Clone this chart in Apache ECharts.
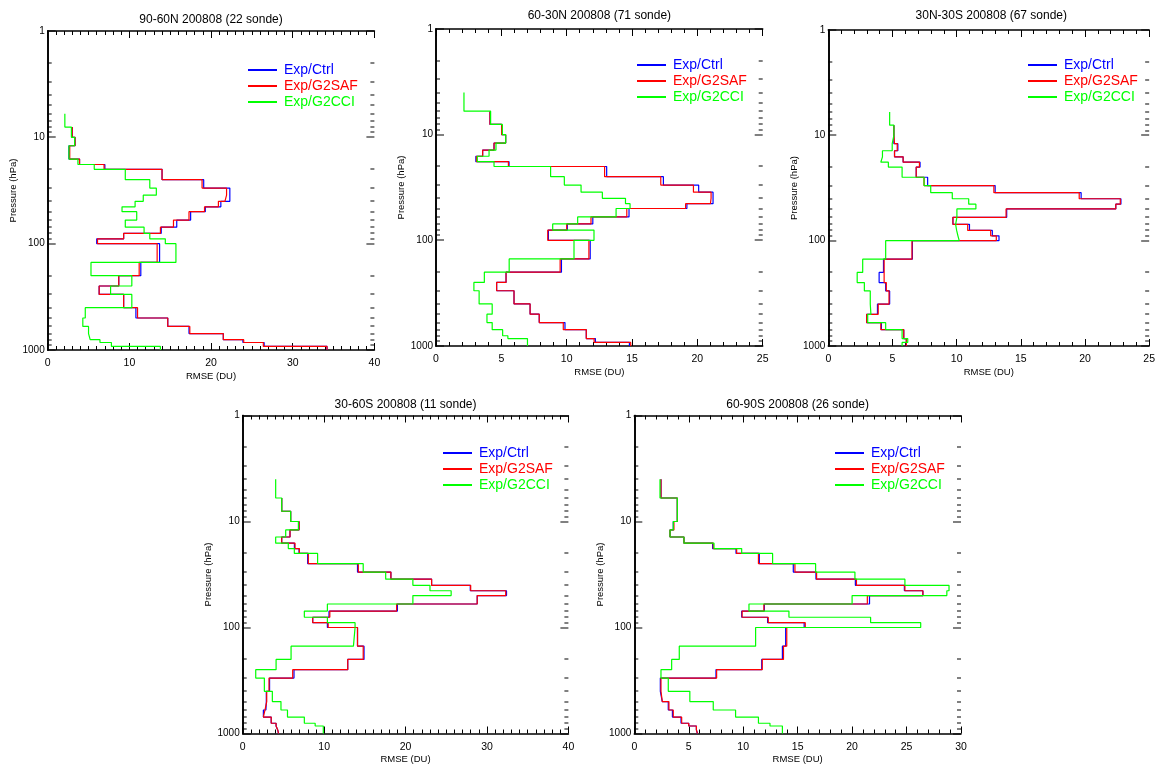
<!DOCTYPE html>
<html><head><meta charset="utf-8">
<script src="https://cdn.jsdelivr.net/npm/echarts@6/dist/echarts.min.js"></script>
<style>html,body{margin:0;padding:0;background:#fff}#c{width:1158px;height:767px}</style>
</head><body><div id="c"></div>
<script>
// Pressure layer boundaries (hPa)
const LEVELS = [4, 6, 8, 10, 12, 14, 16, 18, 20, 25, 30, 35, 40, 45, 50, 60, 70, 80, 90, 100, 150, 200, 250, 300, 400, 500, 600, 700, 800, 850, 925, 1000];
const SERIES_NAMES = ['Exp/Ctrl', 'Exp/G2SAF', 'Exp/G2CCI'];
const TITLES = ['90-60N 200808 (22 sonde)', '60-30N 200808 (71 sonde)', '30N-30S 200808 (67 sonde)', '30-60S 200808 (11 sonde)', '60-90S 200808 (26 sonde)'];
const X_MAX = [40, 25, 25, 40, 30];
const X_STEP = [10, 5, 5, 10, 5];
const Y_TICKS = [1, 10, 100, 1000];

// RMSE (DU) per layer, one value per layer between LEVELS[i] and LEVELS[i+1]
const p1_ctrl  = [null, null, 3.0, 3.35, 2.6, 2.6, 3.9, 7.0, 14.0, 19.1, 22.3, 22.3, 21.2, 19.3, 17.5, 15.8, 13.9, 9.3, 6.0, 13.7, 11.4, 8.7, 6.3, 9.3, 10.8, 14.7, 17.3, 21.5, 23.9, 26.5, 34.2];
const p1_g2saf = [null, null, 3.0, 3.35, 2.7, 2.7, 3.9, 6.9, 14.0, 18.9, 21.9, 21.7, 20.9, 19.2, 17.3, 15.4, 13.8, 9.3, 6.1, 13.4, 11.2, 8.7, 6.3, 9.3, 11.0, 14.7, 17.4, 21.5, 24.0, 26.4, 34.2];
const p1_g2cci = [null, 2.1, 2.9, 3.3, 2.6, 2.6, 3.7, 5.7, 9.5, 12.5, 13.3, 11.7, 10.7, 9.1, 10.9, 9.5, 11.8, 12.5, 14.4, 15.7, 5.3, 10.3, 7.7, 10.3, 4.6, 4.3, 5.0, 5.2, 6.4, 7.8, 13.8];

const p2_ctrl  = [null, 4.13, 5.02, 5.33, 4.44, 3.57, 3.05, 5.59, 13.06, 17.4, 20.1, 21.2, 21.2, 19.2, 14.77, 12.0, 10.05, 8.6, 8.6, 11.8, 9.6, 5.36, 4.64, 5.97, 7.2, 7.9, 9.87, 11.5, 11.5, 12.2, 14.8];
const p2_g2saf = [null, 4.13, 5.02, 5.33, 4.44, 3.57, 3.1, 5.54, 12.9, 17.2, 19.7, 21.05, 21.0, 19.1, 14.6, 11.86, 10.0, 8.55, 8.55, 11.7, 9.5, 5.36, 4.64, 5.97, 7.2, 7.9, 9.74, 11.5, 11.5, 12.1, 14.9];
const p2_g2cci = [2.14, 4.18, 5.08, 5.33, 4.59, 4.06, 3.16, 4.44, 8.77, 9.82, 11.1, 12.73, 14.5, 14.85, 13.78, 10.84, 8.93, 12.09, 12.09, 10.56, 5.6, 3.7, 2.9, 3.3, 4.3, 3.9, 4.3, 5.1, 5.5, 7.0, 7.0];

const p3_ctrl  = [null, null, 5.11, 5.11, 5.42, 5.16, 5.83, 7.15, 6.85, 7.74, 13.0, 19.7, 22.8, 22.4, 13.9, 9.71, 11.0, 12.78, 13.3, 6.55, 4.3, 3.96, 4.47, 4.78, 3.83, 2.99, 4.14, 5.88, 5.88, 6.08, 6.08];
const p3_g2saf = [null, null, 5.11, 5.16, 5.37, 5.16, 5.83, 7.1, 6.85, 7.46, 12.9, 19.55, 22.75, 22.4, 13.85, 9.71, 10.86, 12.65, 13.09, 6.52, 4.35, 4.35, 4.52, 4.73, 3.89, 2.99, 4.09, 5.88, 5.88, 6.08, 6.08];
const p3_g2cci = [null, 4.78, 5.11, 4.98, 4.98, 4.22, 4.09, 4.68, 5.75, 7.46, 7.98, 9.66, 10.94, 11.5, 10.02, 9.92, 10.0, 10.1, 10.2, 4.47, 2.68, 2.25, 2.81, 3.27, 3.32, 3.07, 4.47, 5.75, 5.75, 6.19, 5.75];

const p4_ctrl  = [null, 4.79, 5.89, 6.92, 5.81, 4.79, 6.35, 6.92, 7.98, 14.1, 18.2, 23.2, 27.95, 32.4, 28.8, 19.0, 10.6, 8.6, 10.4, 14.1, 14.9, 12.9, 6.3, 3.3, 2.9, 2.85, 2.54, 3.5, 4.1, 4.3, 4.4];
const p4_g2saf = [null, 4.79, 5.89, 6.92, 5.81, 4.79, 6.43, 6.96, 8.06, 14.2, 18.2, 23.2, 28.0, 32.3, 28.8, 18.9, 10.7, 8.6, 10.5, 14.1, 14.8, 12.9, 6.14, 3.23, 2.95, 2.74, 2.54, 3.5, 4.1, 4.3, 4.4];
const p4_g2cci = [4.05, 4.79, 5.89, 6.84, 5.28, 4.05, 5.6, 6.34, 9.2, 14.8, 17.56, 20.9, 23.0, 25.6, 20.9, 10.4, 7.57, 10.4, 13.8, 13.6, 5.94, 4.1, 1.6, 2.66, 3.64, 4.7, 5.5, 7.57, 8.9, 9.9, 9.9];

const p5_ctrl  = [2.45, 3.95, 3.95, 3.58, 3.28, 4.56, 7.19, 9.34, 11.48, 14.6, 16.68, 20.3, 24.8, 26.5, 21.6, 11.94, 9.86, 12.24, 15.6, 13.9, 13.6, 11.7, 7.5, 2.39, 2.57, 3.12, 3.5, 4.29, 5.0, 5.7, 5.8];
const p5_g2saf = [2.45, 3.95, 3.95, 3.64, 3.28, 4.56, 7.25, 9.4, 11.4, 14.75, 16.74, 20.4, 24.85, 26.5, 21.4, 11.9, 9.9, 12.3, 15.7, 14.0, 13.7, 11.75, 7.56, 2.45, 2.57, 3.18, 3.58, 4.35, 5.0, 5.7, 5.8];
const p5_g2cci = [2.36, 3.95, 3.95, 3.58, 3.28, 4.56, 7.32, 9.86, 12.7, 16.65, 20.26, 24.85, 28.9, 28.7, 20.0, 10.53, 14.2, 21.7, 26.3, 11.14, 4.13, 3.43, 2.45, 3.12, 5.1, 7.25, 9.3, 11.4, 12.46, 13.6, 13.6];

const PANELS = [
  [p1_ctrl, p1_g2saf, p1_g2cci],
  [p2_ctrl, p2_g2saf, p2_g2cci],
  [p3_ctrl, p3_g2saf, p3_g2cci],
  [p4_ctrl, p4_g2saf, p4_g2cci],
  [p5_ctrl, p5_g2saf, p5_g2cci]
];

// ---- layout / style ----
const COLORS = ['#0000ff', '#ff0000', '#00ff00'];
const BOXES = [
  {left: 47.7, top: 31, width: 326.7, height: 319},
  {left: 436, top: 29, width: 326.7, height: 317},
  {left: 828.3, top: 30, width: 326, height: 316},
  {left: 242.7, top: 415.5, width: 325.7, height: 318},
  {left: 634.3, top: 415.5, width: 326.7, height: 318}
];
const TITLE_Y = [14, 10, 10, 399, 399];
const LEGEND_POS = [[248, 63], [637, 58], [1028, 58], [443, 446], [835, 446]];
const FONT = 'Liberation Sans';

// y-axis tick positions on the log scale (major at decades, minor at 2..9 x decade)
const Y_MINOR = [];
[1, 10, 100].forEach(d => { for (let m = 2; m <= 9; m++) Y_MINOR.push(m * d); });

function stepPoints(vals) {
  const pts = [];
  vals.forEach((v, i) => {
    if (v == null) return;
    pts.push([v, LEVELS[i]], [v, LEVELS[i + 1]]);
  });
  return pts;
}

// item: [x(unused), pressure, isMajor]
function makeTickRenderer(side) {
  return function (params, api) {
    const val = api.value(1);
    const len = api.value(2) === 1 ? 8 : 4;
    const y = Math.round(api.coord([0, val])[1]);
    const cs = params.coordSys;
    const x0 = side === 'left' ? cs.x : cs.x + cs.width - len;
    return {
      type: 'rect', silent: true,
      shape: {x: x0, y: y - 0.5, width: len, height: 1},
      style: {fill: '#000'}
    };
  };
}

const grid = [], xAxis = [], yAxis = [], series = [], title = [], legend = [];
BOXES.forEach((b, k) => {
  grid.push({left: b.left, top: b.top, width: b.width, height: b.height, containLabel: false});
  const axLine = {show: true, lineStyle: {color: '#000', width: 1.6}};
  const xCommon = {
    type: 'value', gridIndex: k, min: 0, max: X_MAX[k], interval: X_STEP[k],
    axisLine: axLine, splitLine: {show: false},
    axisTick: {show: true, inside: true, length: 7, lineStyle: {color: '#000', width: 1}},
    minorTick: {show: true, splitNumber: X_STEP[k], length: 4, lineStyle: {color: '#000', width: 1}}
  };
  xAxis.push(Object.assign({}, xCommon, {
    position: 'bottom',
    name: 'RMSE (DU)', nameLocation: 'middle', nameGap: 21,
    nameTextStyle: {fontFamily: FONT, fontSize: 9.5, color: '#000'},
    axisLabel: {show: true, margin: 8, fontFamily: FONT, fontSize: 10.5, color: '#000'}
  }));
  xAxis.push(Object.assign({}, xCommon, {position: 'top', axisLabel: {show: false}}));
  const yCommon = {
    type: 'log', logBase: 10, gridIndex: k, min: 1, max: 1000, inverse: true,
    axisLine: axLine, splitLine: {show: false},
    axisTick: {show: false}, minorTick: {show: false}
  };
  yAxis.push(Object.assign({}, yCommon, {
    position: 'left',
    name: 'Pressure (hPa)', nameLocation: 'middle', nameGap: 28,
    nameTextStyle: {fontFamily: FONT, fontSize: 9.5, color: '#000'},
    axisLabel: {show: true, margin: 3, fontFamily: FONT, fontSize: 10, color: '#000',
      formatter: v => String(Math.round(v))}
  }));
  yAxis.push(Object.assign({}, yCommon, {position: 'right', axisLabel: {show: false}}));

  PANELS[k].forEach((vals, s) => {
    series.push({
      type: 'line', name: SERIES_NAMES[s], xAxisIndex: 2 * k, yAxisIndex: 2 * k,
      data: stepPoints(vals), symbol: 'none', showSymbol: false, smooth: false,
      lineStyle: {color: COLORS[s], width: 1.2}, itemStyle: {color: COLORS[s]},
      z: 2 + s, silent: true, clip: true
    });
  });
  const tickData = Y_TICKS.map(v => [0, v, 1]).concat(Y_MINOR.map(v => [0, v, 0]));
  ['left', 'right'].forEach(side => {
    series.push({
      type: 'custom', name: 'yticks-' + side + k, xAxisIndex: 2 * k, yAxisIndex: 2 * k,
      silent: true, clip: false, z: 10,
      data: tickData,
      renderItem: makeTickRenderer(side)
    });
  });

  title.push({
    text: TITLES[k], left: b.left + b.width / 2, top: TITLE_Y[k], textAlign: 'center', padding: 0,
    textStyle: {fontFamily: FONT, fontSize: 12, fontWeight: 'normal', color: '#000'}
  });
  legend.push({
    orient: 'vertical', left: LEGEND_POS[k][0], top: LEGEND_POS[k][1], padding: 0,
    itemWidth: 29, itemHeight: 2, itemGap: 2, icon: 'rect', selectedMode: false,
    textStyle: {fontFamily: FONT, fontSize: 14, lineHeight: 14, padding: [0, 0, 0, 2]},
    data: SERIES_NAMES.map((n, s) => ({name: n, textStyle: {color: COLORS[s]}}))
  });
});

const chart = echarts.init(document.getElementById('c'), null, {renderer: 'canvas'});
chart.setOption({animation: false, backgroundColor: '#fff', title, legend, grid, xAxis, yAxis, series});
</script></body></html>
